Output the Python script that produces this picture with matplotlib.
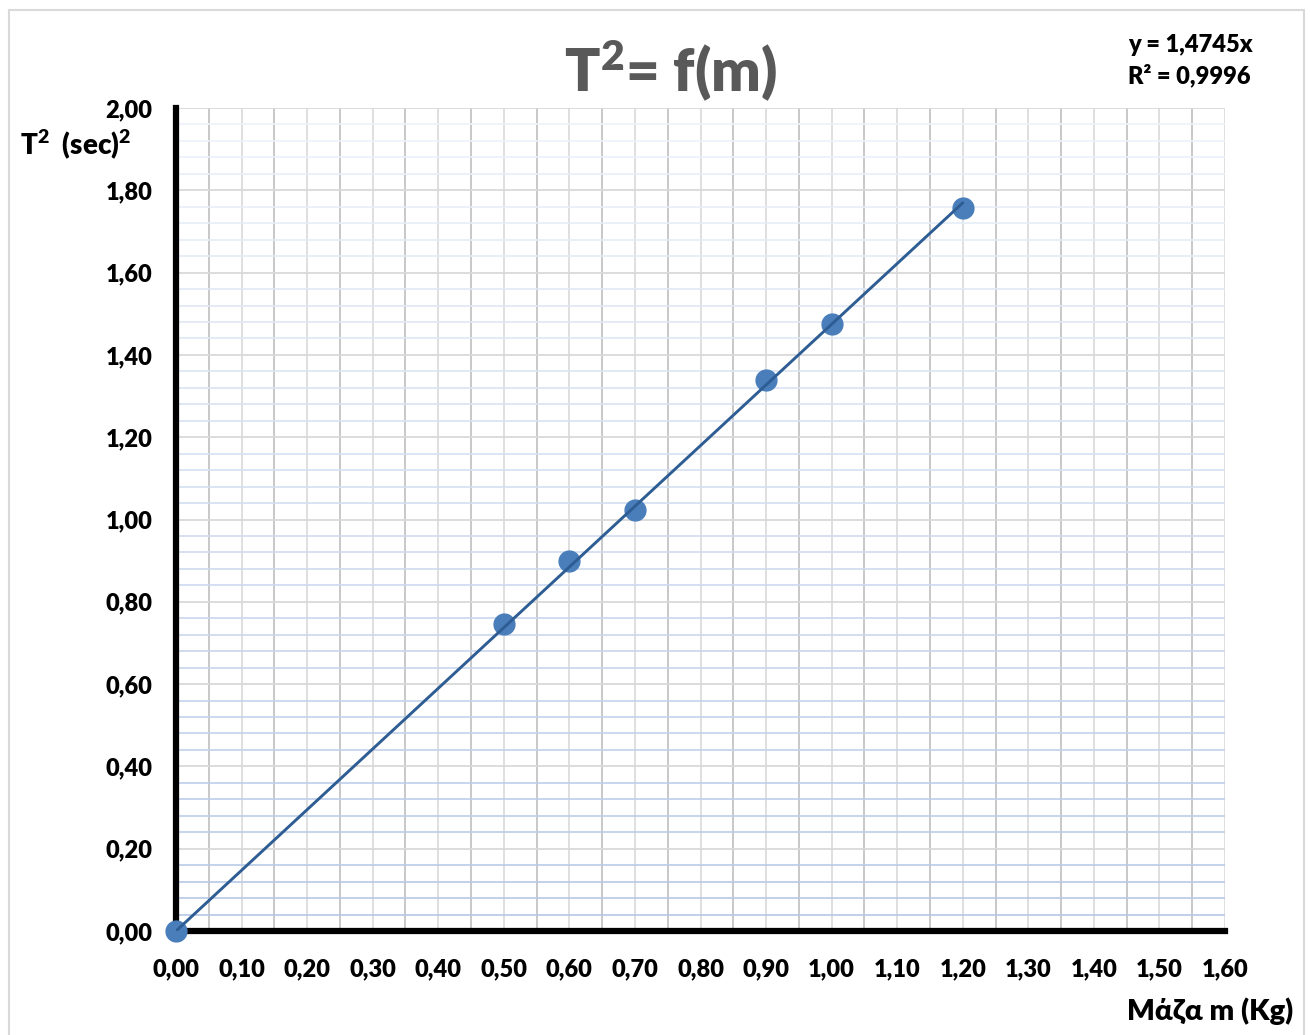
import matplotlib
matplotlib.use("Agg")
import matplotlib.pyplot as plt
import numpy as np
from matplotlib.ticker import FixedLocator, FuncFormatter
from matplotlib.patches import Rectangle

plt.rcParams['font.family'] = ['Lato', 'Open Sans', 'DejaVu Sans']
plt.rcParams['font.weight'] = 'heavy'
plt.rcParams['mathtext.fontset'] = 'custom'
plt.rcParams['mathtext.rm'] = 'Lato:heavy'
plt.rcParams['mathtext.bf'] = 'Lato:heavy'
plt.rcParams['mathtext.it'] = 'Lato:heavy'

# data
mass = [0.00, 0.50, 0.60, 0.70, 0.90, 1.00, 1.20]
period_sq = [0.00, 0.746, 0.899, 1.023, 1.339, 1.475, 1.757]
slope = 1.4745
r2 = 0.9996
trend_x = [0.0, 1.2]
x_ticks = [round(0.1 * i, 2) for i in range(17)]
y_ticks = [round(0.2 * i, 2) for i in range(11)]

W, H = 1311, 1035
WT = 'heavy'
fig = plt.figure(figsize=(W / 100, H / 100), dpi=100)
ax = fig.add_axes([176 / W, 1 - 931 / H, (1225 - 176) / W, (931 - 108) / H])
ax.set_xlim(0, 1.6)
ax.set_ylim(0, 2.0)

# figure border
fig.patches.append(Rectangle((9 / W, -0.01), (1304 - 9) / W, 1.01 - 10 / H,
                             transform=fig.transFigure, fill=False,
                             edgecolor='#d9d9d9', linewidth=1.5, zorder=0))

# grid: vertical
for i in range(33):
    xv = 0.05 * i
    if i % 2 == 1:
        ax.axvline(xv, color='#bfbfbf', lw=1.2, zorder=1)
    else:
        ax.axvline(xv, color='#d9d9d9', lw=1.2, zorder=1)
# grid: horizontal
c_top = np.array([0xee, 0xf3, 0xfa]) / 255
c_bot = np.array([0xb4, 0xc7, 0xe7]) / 255
for j in range(51):
    yv = 0.04 * j
    if j % 5 == 0:
        ax.axhline(yv, color='#d9d9d9', lw=1.3, zorder=1.2)
    else:
        t = yv / 2.0
        col = c_bot * (1 - t) + c_top * t
        ax.axhline(yv, color=col, lw=1.2, zorder=1.1)

ax.plot(mass, period_sq, 'o', color='#4a7ebb', markersize=15, zorder=3, clip_on=False)
ax.plot(trend_x, [slope * v for v in trend_x], color='#2e5d93', lw=2.1, zorder=4,
        solid_capstyle='round')

for s in ['top', 'right']:
    ax.spines[s].set_visible(False)
for s in ['left', 'bottom']:
    ax.spines[s].set_linewidth(4.5)
    ax.spines[s].set_color('black')
    ax.spines[s].set_zorder(2.5)

ax.xaxis.set_major_locator(FixedLocator(x_ticks))
ax.yaxis.set_major_locator(FixedLocator(y_ticks))
fmt = FuncFormatter(lambda v, p: f"{v:.2f}".replace('.', ','))
ax.xaxis.set_major_formatter(fmt)
ax.yaxis.set_major_formatter(fmt)
ax.tick_params(axis='both', length=0, labelsize=17)
ax.tick_params(axis='x', pad=20)
ax.tick_params(axis='y', pad=17)
for lab in ax.get_xticklabels() + ax.get_yticklabels():
    lab.set_fontweight(WT)

fig.text(670 / W, 1 - 92 / H, 'T$^{2}$= f(m)', ha='center', va='baseline',
         fontsize=42, fontweight=WT, color='#595959')
fig.text(1128 / W, 1 - 52 / H, f"y = {slope:.4f}x".replace('.', ','), ha='left',
         va='baseline', fontsize=17, fontweight=WT)
fig.text(1128 / W, 1 - 83 / H, f"R² = {r2:.4f}".replace('.', ','), ha='left',
         va='baseline', fontsize=17, fontweight=WT)
fig.text(20 / W, 1 - 154 / H, 'T$^{2}$  (sec)$^{2}$', ha='left', va='baseline',
         fontsize=20, fontweight=WT)
fig.text(1293 / W, 1 - 1020 / H, 'Μάζα m (Kg)', ha='right', va='baseline',
         fontsize=21, fontweight=WT)

fig.savefig('out.png', dpi=100, facecolor='white')
